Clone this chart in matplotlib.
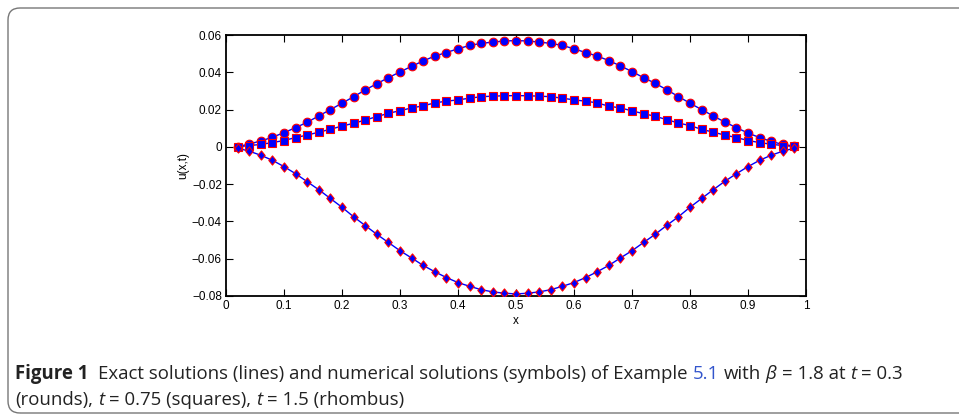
import numpy as np
import matplotlib.pyplot as plt
from matplotlib.patches import FancyBboxPatch
from matplotlib.path import Path
from matplotlib.transforms import IdentityTransform

# grid points of the numerical solution
x = np.arange(1, 50) * 0.02

# t = 0.3 (rounds)
u_rounds = [0.0000, 0.0016, 0.0031, 0.0052, 0.0076, 0.0103, 0.0132, 0.0166, 0.0200, 0.0234,
            0.0269, 0.0305, 0.0339, 0.0371, 0.0402, 0.0432, 0.0461, 0.0487, 0.0506, 0.0526,
            0.0544, 0.0555, 0.0562, 0.0568, 0.0570, 0.0568, 0.0562, 0.0555, 0.0544, 0.0526,
            0.0506, 0.0487, 0.0463, 0.0434, 0.0404, 0.0371, 0.0341, 0.0306, 0.0270, 0.0234,
            0.0200, 0.0166, 0.0133, 0.0103, 0.0074, 0.0050, 0.0029, 0.0013, 0.0004]

# t = 0.75 (squares)
u_squares = [0.0000, 0.0007, 0.0013, 0.0023, 0.0034, 0.0050, 0.0063, 0.0079, 0.0094, 0.0112,
             0.0126, 0.0144, 0.0162, 0.0180, 0.0194, 0.0209, 0.0220, 0.0236, 0.0245, 0.0252,
             0.0261, 0.0269, 0.0272, 0.0274, 0.0275, 0.0274, 0.0272, 0.0269, 0.0261, 0.0252,
             0.0245, 0.0236, 0.0218, 0.0209, 0.0193, 0.0178, 0.0164, 0.0146, 0.0128, 0.0114,
             0.0094, 0.0079, 0.0063, 0.0050, 0.0034, 0.0023, 0.0014, 0.0007, 0.0002]

# t = 1.5 (rhombus)
u_rhombus = [-0.0007, -0.0023, -0.0045, -0.0072, -0.0106, -0.0144, -0.0187, -0.0230, -0.0277, -0.0324,
             -0.0375, -0.0422, -0.0469, -0.0513, -0.0557, -0.0596, -0.0636, -0.0670, -0.0701, -0.0728,
             -0.0748, -0.0766, -0.0778, -0.0785, -0.0789, -0.0785, -0.0778, -0.0766, -0.0748, -0.0728,
             -0.0701, -0.0670, -0.0636, -0.0596, -0.0557, -0.0513, -0.0469, -0.0421, -0.0375, -0.0324,
             -0.0277, -0.0230, -0.0185, -0.0144, -0.0106, -0.0072, -0.0045, -0.0023, -0.0007]

xticks = [0, 0.1, 0.2, 0.3, 0.4, 0.5, 0.6, 0.7, 0.8, 0.9, 1]
xtick_labels = ["0", "0.1", "0.2", "0.3", "0.4", "0.5", "0.6", "0.7", "0.8", "0.9", "1"]
yticks = [-0.08, -0.06, -0.04, -0.02, 0, 0.02, 0.04, 0.06]
ytick_labels = ["\u22120.08", "\u22120.06", "\u22120.04", "\u22120.02", "0", "0.02", "0.04", "0.06"]

W, H = 959, 416
fig = plt.figure(figsize=(W / 100, H / 100), dpi=100)

# axes box in pixels: left 226, right 806, top 35, bottom 296
ax = fig.add_axes([226 / W, 1 - 296 / H, 580 / W, 261 / H])

rhombus = Path([(0, 1), (0.8, 0), (0, -1), (-0.8, 0), (0, 1)],
               [Path.MOVETO, Path.LINETO, Path.LINETO, Path.LINETO, Path.CLOSEPOLY])

series = [(u_rounds, "o", 6.2), (u_squares, "s", 5.2), (u_rhombus, rhombus, 6.6)]
for u, mk, ms in series:
    ax.plot(x, u, color="blue", lw=1.0, zorder=2)
    ax.plot(x, u, ls="none", marker=mk, ms=ms, mfc="blue", mec="red", mew=0.8, zorder=3)

ax.set_xlim(0, 1)
ax.set_ylim(-0.08, 0.06)
ax.set_xticks(xticks)
ax.set_xticklabels(xtick_labels)
ax.set_yticks(yticks)
ax.set_yticklabels(ytick_labels)
ax.tick_params(direction="in", top=True, right=True, length=5, width=0.8,
               labelsize=8.5, pad=3)
for lab in ax.get_xticklabels() + ax.get_yticklabels():
    lab.set_family("Liberation Sans")
for s in ax.spines.values():
    s.set_linewidth(1.3)
ax.set_xlabel("x", fontsize=8.5, family="Liberation Sans", labelpad=2)
ax.set_ylabel("u(x,t)", fontsize=8.5, family="Liberation Sans", labelpad=2)

# rounded frame around the figure panel (runs off the right edge)
frame = FancyBboxPatch((8, 3), 1200, H - 11,
                       boxstyle="round,pad=0,rounding_size=12",
                       transform=IdentityTransform(), fill=False,
                       ec="#777777", lw=1.0)
fig.add_artist(frame)

# caption, drawn piece by piece
renderer = fig.canvas.get_renderer()
cap_font = "Open Sans"
cap_size = 13.4


def space_width(**kw):
    a = fig.text(0, 0, "xx", fontsize=cap_size, family=cap_font, **kw)
    b = fig.text(0, 0, "x x", fontsize=cap_size, family=cap_font, **kw)
    w = b.get_window_extent(renderer).width - a.get_window_extent(renderer).width
    a.remove()
    b.remove()
    return w


sp = space_width()


def caption_line(x0, y_base, pieces):
    xp = x0
    for txt, style in pieces:
        lead = len(txt) - len(txt.lstrip(" "))
        trail = len(txt) - len(txt.rstrip(" "))
        xp += lead * sp
        kw = dict(fontsize=cap_size, family=cap_font, va="baseline", ha="left", color="#222222")
        if style == "bold":
            kw["weight"] = "bold"
        elif style == "it":
            kw["style"] = "italic"
        elif style == "link":
            kw["color"] = "#3355cc"
        t = fig.text(xp / W, 1 - y_base / H, txt.strip(" "), **kw)
        xp = t.get_window_extent(renderer).x1 + trail * sp


line1 = [("Figure 1", "bold"),
         ("  Exact solutions (lines) and numerical solutions (symbols) of Example ", "n"),
         ("5.1", "link"), (" with ", "n"), ("\u03b2", "it"), (" = 1.8 at ", "n"),
         ("t", "it"), (" = 0.3", "n")]
line2 = [("(rounds), ", "n"), ("t", "it"), (" = 0.75 (squares), ", "n"),
         ("t", "it"), (" = 1.5 (rhombus)", "n")]
caption_line(15, 379, line1)
caption_line(15, 405, line2)

fig.savefig("out.png", dpi=100)
